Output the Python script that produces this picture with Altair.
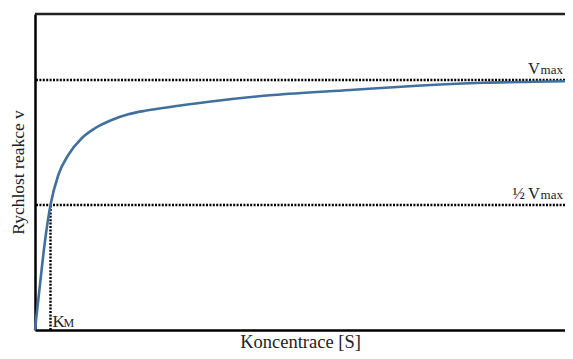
import altair as alt
import pandas as pd

# Curve (x: concentration units, v: fraction of Vmax)
conc = [0, 0.24, 0.61, 1.43, 2.04, 2.88, 4.33, 6.19, 8.68, 11.15, 14.26, 17.34, 20.45, 24.16, 31.97, 44.24, 58.55, 71.0, 75.3, 83.3, 92.6, 98.5]
rate = [0, 0.05, 0.12, 0.28, 0.385, 0.50, 0.62, 0.70, 0.767, 0.807, 0.84, 0.863, 0.877, 0.889, 0.912, 0.94, 0.96, 0.977, 0.982, 0.989, 0.993, 0.995]

VMAX = 1.0
HALF = 0.5
KM = 2.88
XMAX = 98.5
YMAX = 1.264

curve_df = pd.DataFrame({"x": conc, "v": rate})
hlines_df = pd.DataFrame({"v": [VMAX, HALF]})
km_df = pd.DataFrame({"x": [KM], "v0": [0], "v1": [HALF]})

FONT = "Liberation Serif"
TXT = "#222222"

xs = alt.Scale(domain=[0, XMAX], nice=False, zero=True)
ys = alt.Scale(domain=[0, YMAX], nice=False, zero=True)

xax = alt.Axis(ticks=False, labels=False, grid=False, domainColor="black", domainWidth=2.5,
               title="Koncentrace [S]", titleFont=FONT, titleFontSize=18.5, titleFontWeight="normal",
               titleColor=TXT, titlePadding=2)
yax = alt.Axis(ticks=False, labels=False, grid=False, domainColor="black", domainWidth=2.5,
               title="Rychlost reakce v", titleFont=FONT, titleFontSize=17.5, titleFontWeight="normal",
               titleColor=TXT, titlePadding=8)

curve = alt.Chart(curve_df).mark_line(color="#41709f", strokeWidth=2.6, interpolate="monotone").encode(
    x=alt.X("x:Q", scale=xs, axis=xax),
    y=alt.Y("v:Q", scale=ys, axis=yax),
)

hlines = alt.Chart(hlines_df).mark_rule(color="black", strokeWidth=2.4, strokeDash=[2, 1.4]).encode(
    y=alt.Y("v:Q", scale=ys),
)

kmline = alt.Chart(km_df).mark_rule(color="black", strokeWidth=2.4, strokeDash=[2, 1.4]).encode(
    x=alt.X("x:Q", scale=xs),
    y=alt.Y("v0:Q", scale=ys),
    y2="v1:Q",
)

top = alt.Chart(pd.DataFrame({"v": [YMAX]})).mark_rule(color="#222", strokeWidth=2.5).encode(
    y=alt.Y("v:Q", scale=ys),
)

lab_df = pd.DataFrame({"x": [XMAX, XMAX], "v": [VMAX, HALF], "big": ["V", "½\u2009V"]})
lab_big = alt.Chart(lab_df).mark_text(font=FONT, fontSize=16.5, color=TXT, align="right",
                                      baseline="alphabetic", dx=-25, dy=-6).encode(
    x=alt.X("x:Q", scale=xs), y=alt.Y("v:Q", scale=ys), text="big:N")
lab_small = alt.Chart(lab_df).mark_text(font=FONT, fontSize=13, color=TXT, align="right",
                                        baseline="alphabetic", dx=-2, dy=-6).encode(
    x=alt.X("x:Q", scale=xs), y=alt.Y("v:Q", scale=ys), text=alt.value("max"))

km_lab_df = pd.DataFrame({"x": [KM], "v": [0]})
km_big = alt.Chart(km_lab_df).mark_text(font=FONT, fontSize=17, color=TXT, align="left",
                                        baseline="alphabetic", dx=2, dy=-3).encode(
    x=alt.X("x:Q", scale=xs), y=alt.Y("v:Q", scale=ys), text=alt.value("K"))
km_small = alt.Chart(km_lab_df).mark_text(font=FONT, fontSize=12, color=TXT, align="left",
                                          baseline="alphabetic", dx=13, dy=-3).encode(
    x=alt.X("x:Q", scale=xs), y=alt.Y("v:Q", scale=ys), text=alt.value("M"))

chart = alt.layer(top, hlines, kmline, curve, lab_big, lab_small, km_big, km_small).properties(
    width=530, height=316,
    autosize=alt.AutoSizeParams(type="none"),
    padding={"left": 27, "top": 6, "right": 0, "bottom": 21},
).configure_view(stroke=None).configure(background="white")

chart.save("out.html", embed_options={"renderer": "svg", "actions": False})
